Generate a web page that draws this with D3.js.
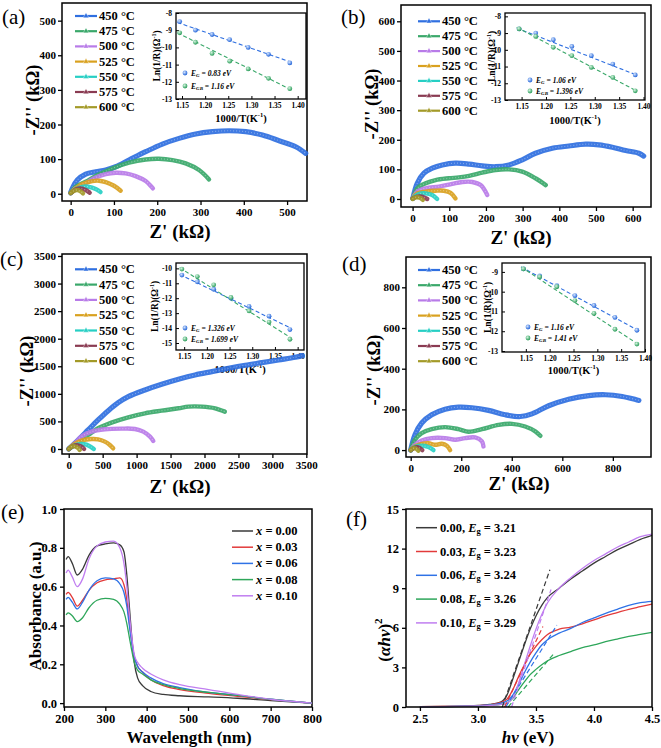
<!DOCTYPE html>
<html><head><meta charset="utf-8">
<script src="https://cdn.jsdelivr.net/npm/d3@7"></script>
<style>body{margin:0;background:#fff}svg{display:block}</style>
</head><body><svg id="c" width="661" height="748"></svg>
<script>
const FONT="'Liberation Serif','Times New Roman',serif";
// ---------- DATA ----------
const tempLabels=["450 °C","475 °C","500 °C","525 °C","550 °C","575 °C","600 °C"];
const tempColors=["#2f6fe0","#3aa86a","#b87be8","#d9a11f","#26cfc4","#8a3b52","#a39a28"];
// Nyquist: [Z', -Z''] in kΩ, series order 450..600 °C
const nyqA=[
 [[0,3],[3.9,15.4],[15.4,39.5],[34.7,56.8],[57.8,63.6],[80.9,68.4],[104,78],[134.8,97.3],[173.3,121.4],[211.9,143.5],[250.4,159.9],[288.9,172.4],[327.4,179.2],[366,182],[404.5,179.2],[443,169.6],[481.5,153.2],[520,135.8],[543,116.6]],
 [[0,2],[11.5,20],[34.7,34.7],[57.8,51],[96,73],[134.8,89.6],[173.3,99],[204,101],[235,97.3],[265.8,87.7],[296.6,68.4],[319.7,41.4]],
 [[0,2],[11.5,15.4],[34.7,30],[57.8,47],[80.9,56.8],[104,60.7],[127,58.8],[150,51],[173.3,36.6],[190,15.4]],
 [[0,2],[11.5,15],[27,28],[50,36.6],[65.5,37.6],[80.9,33.7],[100,23],[115.6,8.7]],
 [[0,2],[11.5,12.5],[27,20],[42.4,20],[57.8,13.5],[69,4.8]],
 [[0,2],[11.5,12.5],[23,15.4],[34.7,10.6],[44,3]],
 [[0,2],[7.7,8.7],[15.4,10.6],[23,6.7],[28.5,1]]
];
const nyqB=[
 [[0.9,2],[12.7,53],[31,87],[53.6,104],[81,115],[117,121],[154,118],[190,112],[226,109],[263,115],[299,132],[335,154.5],[381,171.5],[426,179],[472,185],[508,183],[544.5,175],[581,163.6],[617,154.5],[630,145]],
 [[1,2],[12.7,36],[35.5,53],[62.7,64],[99,70],[126,73],[154,78],[190,89],[226,98],[263,100],[299,92.5],[335,70],[363,47]],
 [[0,2],[12.7,25],[35.5,36],[72,42],[108,51],[135.5,57.5],[163,57.5],[185.5,47],[203.6,13.5]],
 [[0,2],[12.7,19],[35.5,25],[62.7,28],[85,28],[103.6,21],[117,2]],
 [[0,2],[17,17],[35.5,19],[53.6,13.5],[67,0]],
 [[0,2],[12.7,8],[26,8],[40,0]],
 [[0,0],[8,5.6],[19,4.5],[28,-3]]
];
const nyqC=[
 [[0,0],[138,163],[286,345],[433,526],[582,695],[729,840],[877,949],[1123,1070],[1369,1173],[1616,1264],[1861,1342],[2108,1403],[2354,1463],[2600,1518],[2846,1566],[3092,1614],[3338,1663],[3437,1693]],
 [[0,0],[138,133],[286,254],[433,375],[630,478],[877,574],[1123,647],[1369,695],[1616,738],[1763,768],[1960,768],[2157,738],[2300,677]],
 [[0,0],[89,103],[187,224],[335,314],[532,357],[778,369],[975,363],[1098,314],[1197,224],[1246,145]],
 [[0,0],[89,91],[187,151],[335,181],[433,175],[532,133],[606,73],[655,12]],
 [[0,0],[89,66],[187,91],[261,79],[335,30],[370,0]],
 [[0,0],[64,54],[138,66],[187,42],[227,0]],
 [[0,0],[40,42],[89,48],[138,18],[162,-18]]
];
const nyqD=[
 [[0,0],[17,75],[43.6,133],[83,173.5],[136,201],[189,211],[242,208],[308,195],[374,173.5],[434,165],[480,178],[546,218],[625,250],[705,268],[771,272],[837,263.5],[903,244]],
 [[0,0],[17,51],[43.6,83.5],[83,103],[136,113],[189,103],[229,90],[282,103],[348,124],[401,129],[453,116],[493,92],[513,70]],
 [[0,0],[17,26],[43.6,47.5],[83,59],[136,59],[176,51],[215.5,59],[255,62],[282,42.5],[288,18]],
 [[0,0],[17,18],[43.6,31],[70,34],[96.5,26],[123,31],[143,21],[156,0]],
 [[0,0],[17,15],[43.6,21],[70,15],[90,0]],
 [[0,0],[14.5,11.5],[30,13],[46,0]],
 [[0,0],[8,8],[20,8],[30,-3]]
];
// Arrhenius insets: 1000/T (K^-1) for 600..450 °C
const invT=[1.145,1.179,1.215,1.253,1.293,1.337,1.383];
const lnG_A=[-8.5,-9.0,-9.25,-9.55,-10.0,-10.4,-10.9];
const lnGB_A=[-9.15,-9.7,-10.35,-10.8,-11.25,-11.8,-12.4];
const lnG_B=[-8.75,-9.0,-9.4,-9.8,-10.35,-10.85,-11.5];
const lnGB_B=[-8.75,-9.2,-9.85,-10.35,-11.05,-11.65,-12.45];
const lnG_C=[-10.45,-10.9,-11.4,-12.0,-12.55,-13.2,-14.1];
const lnGB_C=[-10.05,-10.55,-11.1,-11.95,-12.85,-13.6,-14.75];
const lnG_D=[-8.85,-9.2,-9.7,-10.2,-10.7,-11.3,-11.95];
const lnGB_D=[-8.85,-9.25,-9.75,-10.45,-11.1,-11.9,-12.65];
const fitG_A=[[1.14,-8.55],[1.385,-10.85]], fitGB_A=[[1.14,-9.15],[1.385,-12.45]];
const fitG_B=[[1.14,-8.7],[1.385,-11.5]], fitGB_B=[[1.14,-8.65],[1.385,-12.45]];
const fitG_C=[[1.14,-10.4],[1.385,-14.0]], fitGB_C=[[1.14,-9.95],[1.385,-14.65]];
const fitG_D=[[1.14,-8.75],[1.385,-11.95]], fitGB_D=[[1.14,-8.75],[1.385,-12.65]];
const energies=[["0.83","1.16"],["1.06","1.396"],["1.326","1.699"],["1.16","1.41"]];
const inTicksX=[1.15,1.20,1.25,1.30,1.35,1.40];
// UV-vis absorbance
const uvLabels=["0.00","0.03","0.06","0.08","0.10"];
const uvColors=["#3a3a3a","#e23a3a","#2f72e6","#2ea65a","#c07ef0"];
const wl=[205,210,220,232,245,260,280,300,320,335,345,352,358,364,370,378,390,410,440,480,550,620,700,800];
const abs000=[.74,.755,.72,.66,.69,.76,.81,.82,.825,.815,.78,.66,.50,.34,.21,.13,.09,.06,.045,.038,.032,.025,.013,0];
const abs003=[.56,.57,.545,.50,.53,.58,.62,.635,.64,.645,.61,.53,.42,.32,.24,.19,.16,.12,.09,.07,.05,.035,.018,0];
const abs006=[.535,.545,.52,.485,.52,.58,.63,.645,.64,.615,.57,.50,.40,.31,.24,.19,.16,.13,.10,.08,.055,.04,.02,0];
const abs008=[.455,.465,.45,.42,.44,.49,.53,.54,.535,.51,.47,.41,.34,.27,.21,.17,.15,.12,.095,.075,.055,.04,.02,0];
const abs010=[.67,.685,.65,.60,.64,.74,.81,.83,.835,.80,.72,.60,.46,.34,.25,.21,.18,.15,.12,.095,.07,.045,.02,0];
// Tauc plot
const hv=[2.5,2.7,2.9,3.0,3.1,3.2,3.25,3.3,3.35,3.4,3.45,3.5,3.55,3.6,3.7,3.8,3.9,4.0,4.1,4.2,4.3,4.4,4.5];
const tauc000=[.02,.04,.08,.12,.2,.4,.9,2.1,3.4,4.7,5.9,6.9,7.7,8.3,9.0,9.7,10.3,10.9,11.4,11.9,12.3,12.7,13.0];
const tauc003=[.02,.04,.07,.1,.18,.35,.6,1.3,2.3,3.2,4.0,4.6,5.1,5.5,5.9,6.05,6.3,6.6,6.9,7.15,7.4,7.6,7.8];
const tauc006=[.02,.03,.06,.09,.15,.3,.45,.9,1.7,2.6,3.4,4.1,4.7,5.1,5.6,5.95,6.4,6.75,7.1,7.4,7.7,7.9,8.0];
const tauc008=[.01,.02,.05,.07,.12,.2,.3,.65,1.3,1.9,2.45,2.85,3.2,3.5,3.9,4.2,4.5,4.7,4.95,5.15,5.35,5.5,5.65];
const tauc010=[.01,.03,.06,.08,.12,.2,.3,.7,1.8,3.2,4.6,5.9,7.0,7.9,9.0,9.8,10.5,11.1,11.6,12.1,12.5,12.9,13.1];
const egVals=["3.21","3.23","3.24","3.26","3.29"];
const tangents=[[[3.21,0],[3.62,10.4]],[[3.23,0],[3.56,6.1]],[[3.24,0],[3.68,6.2]],[[3.26,0],[3.66,4.1]],[[3.29,0],[3.63,8.9]]];

// ---------- DRAW ----------
const svg=d3.select("#c");
const defs=svg.append("defs");
function grad(id,c0,c1){const g=defs.append("radialGradient").attr("id",id).attr("cx","38%").attr("cy","35%").attr("r","65%");
 g.append("stop").attr("offset","0").attr("stop-color",c0);g.append("stop").attr("offset","1").attr("stop-color",c1);}
grad("gBlue","#d6e6ff","#1f62d8");grad("gGreen","#d4f5e0","#259a55");

function T(sel){return sel.attr("font-family",FONT).attr("fill","#000");}
function axes(o){
 const gx=svg.append("g").attr("transform",`translate(0,${o.f.b})`)
  .call(d3.axisBottom(o.x).tickValues(o.xt).tickFormat(o.xf).tickSize(o.ts).tickSizeOuter(0).tickPadding(o.tp));
 const gy=svg.append("g").attr("transform",`translate(${o.f.l},0)`)
  .call(d3.axisLeft(o.y).tickValues(o.yt).tickFormat(o.yf).tickSize(o.ts).tickSizeOuter(0).tickPadding(o.tpy!=null?o.tpy:o.tp));
 [gx,gy].forEach(g=>{g.select(".domain").remove();
  g.selectAll("line").attr("stroke","#000").attr("stroke-width",o.sw);
  T(g.selectAll("text")).attr("font-weight","bold").attr("font-size",o.fs);});
 svg.append("rect").attr("x",o.f.l).attr("y",o.f.t).attr("width",o.f.r-o.f.l).attr("height",o.f.b-o.f.t)
  .attr("fill","none").attr("stroke","#000").attr("stroke-width",o.fw);
}
function title(txt,x,y,fs,rot){const t=T(svg.append("text")).attr("font-weight","bold").attr("font-size",fs)
 .attr("text-anchor","middle").attr("dominant-baseline","central")
 .attr("transform",`translate(${x},${y})`+(rot?" rotate(-90)":""));t.html(txt);return t;}
function letter(txt,x,y){T(svg.append("text")).attr("x",x).attr("y",y).attr("font-size",21).text(txt);}
const str=v=>String(v);

function nyquist(P){
 const f=P.f;
 const x=d3.scaleLinear().domain(P.xd).range([f.l,f.r]);
 const y=d3.scaleLinear().domain(P.yd).range([f.b,f.t]);
 // inset
 const I=P.inset;
 const ix=d3.scaleLinear().domain(I.xd).range([I.l,I.r]);
 const iy=d3.scaleLinear().domain(I.yd).range([I.b,I.t]);
 axes({x:ix,y:iy,f:I,xt:inTicksX,yt:I.yt,xf:d3.format(".2f"),yf:str,ts:-3,tp:4,sw:1,fs:7.5,fw:1.3});
 [[P.fitG,"#2f6fe0"],[P.fitGB,"#3aa86a"]].forEach(([d,c])=>{
  svg.append("path").attr("d",d3.line().x(p=>ix(p[0])).y(p=>iy(p[1]))(d)).attr("stroke",c).attr("stroke-width",1.1)
   .attr("stroke-dasharray","4,2.5").attr("fill","none");});
 [[P.lnG,"url(#gBlue)"],[P.lnGB,"url(#gGreen)"]].forEach(([d,c])=>{
  svg.append("g").selectAll("circle").data(d).join("circle").attr("cx",(v,i)=>ix(invT[i])).attr("cy",v=>iy(v))
   .attr("r",2.4).attr("fill",c);});
 const eg=P.en;
 [["G",eg[0],"url(#gBlue)"],["GB",eg[1],"url(#gGreen)"]].forEach((e,k)=>{
  const yy=I.legY[k];
  svg.append("circle").attr("cx",I.legX).attr("cy",yy).attr("r",2.4).attr("fill",e[2]);
  T(svg.append("text")).attr("x",I.legX+6).attr("y",yy).attr("dominant-baseline","central").attr("font-size",7.5)
   .attr("font-style","italic").attr("font-weight","bold")
   .html(`E<tspan font-size="5" dy="2">${e[0]}</tspan><tspan dy="-2"> = ${e[1]} eV</tspan>`);
 });
 title("Ln(1/R)(Ω<tspan font-size='6' dy='-3'>-1</tspan><tspan dy='3'>)</tspan>",I.ylx,(I.t+I.b)/2,9.5,true);
 title("1000/T(K<tspan font-size='6.5' dy='-4'>-1</tspan><tspan dy='4'>)</tspan>",(I.l+I.r)/2,I.xly,10.5,false);
 // main axes
 axes({x,y,f,xt:P.xt,yt:P.yt,xf:str,yf:str,ts:4,tp:3,tpy:2,sw:1.3,fs:11,fw:1.5});
 // curves
 const line=d3.line().x(p=>x(p[0])).y(p=>y(p[1])).curve(d3.curveCatmullRom.alpha(0.5));
 P.data.forEach((d,i)=>{
  svg.append("path").attr("d",line(d)).attr("fill","none").attr("stroke",tempColors[i])
   .attr("stroke-width",i==0?5.2:4.4).attr("stroke-linecap","round").attr("stroke-linejoin","round").attr("opacity",0.92);
  svg.append("path").attr("d",line(d)).attr("fill","none").attr("stroke","#fff")
   .attr("stroke-width",1.2).attr("stroke-dasharray","1,2").attr("opacity",0.35);
 });
 // legend
 tempLabels.forEach((t,i)=>{
  const yy=P.leg.y0+i*P.leg.dy;
  svg.append("line").attr("x1",P.leg.x).attr("x2",P.leg.x+22).attr("y1",yy).attr("y2",yy)
   .attr("stroke",tempColors[i]).attr("stroke-width",2.2);
  svg.append("path").attr("d",d3.symbol(d3.symbolTriangle,14)()).attr("transform",`translate(${P.leg.x+11},${yy})`)
   .attr("fill",tempColors[i]).attr("stroke","#fff").attr("stroke-width",0.4);
  T(svg.append("text")).attr("x",P.leg.x+24).attr("y",yy).attr("dominant-baseline","central")
   .attr("font-size",12.5).attr("font-weight","bold").text(t);
 });
 title("-Z'' (kΩ)",P.yt0[0],P.yt0[1],18.5,true);
 title("Z' (kΩ)",P.xt0[0],P.xt0[1],19,false);
 letter(P.letter,P.lp[0],P.lp[1]);
}
const d100=(a,b,s)=>d3.range(a,b+1e-9,s);
nyquist({f:{l:62,r:307,t:3,b:201},xd:[-20,546],yd:[-21,551],xt:d100(0,500,100),yt:d100(0,500,100),data:nyqA,
 inset:{l:176,r:306,t:13,b:99,xd:[1.137,1.418],yd:[-13,-8],yt:[-8,-9,-10,-11,-12,-13],legX:185,legY:[73,86],ylx:157,xly:118},
 lnG:lnG_A,lnGB:lnGB_A,fitG:fitG_A,fitGB:fitGB_A,en:energies[0],leg:{x:75,y0:16,dy:15.2},yt0:[33,100],xt0:[180,231],letter:"(a)",lp:[2,24]});
nyquist({f:{l:401,r:651,t:5,b:207},xd:[-31.6,650],yd:[-27,655],xt:d100(0,600,100),yt:d100(0,600,100),data:nyqB,
 inset:{l:505,r:645,t:13,b:100,xd:[1.116,1.403],yd:[-13.0,-7.8],yt:[-8,-9,-10,-11,-12,-13],legX:530,legY:[80,91],ylx:492,xly:120},
 lnG:lnG_B,lnGB:lnGB_B,fitG:fitG_B,fitGB:fitGB_B,en:energies[1],leg:{x:418,y0:21.3,dy:14.9},yt0:[372,104],xt0:[521,237],letter:"(b)",lp:[341,24]});
nyquist({f:{l:62,r:307,t:254,b:454},xd:[-99,3510],yd:[-91,3536],xt:d100(0,3500,500),yt:d100(0,3500,500),data:nyqC,
 inset:{l:176,r:304,t:263,b:350,xd:[1.132,1.414],yd:[-15.47,-9.64],yt:[-10,-11,-12,-13,-14,-15],legX:185,legY:[328,339],ylx:155,xly:369},
 lnG:lnG_C,lnGB:lnGB_C,fitG:fitG_C,fitGB:fitGB_C,en:energies[2],leg:{x:75,y0:269.3,dy:15.3},yt0:[27,371],xt0:[180,486],letter:"(c)",lp:[0,266]});
nyquist({f:{l:406,r:651,t:257,b:457},xd:[-18.6,951],yd:[-34,949],xt:d100(0,800,200),yt:d100(0,800,200),data:nyqD,
 inset:{l:502,r:645,t:263,b:352,xd:[1.10,1.40],yd:[-13.05,-8.55],yt:[-9,-10,-11,-12,-13],legX:528,legY:[327,338],ylx:488,xly:370},
 lnG:lnG_D,lnGB:lnGB_D,fitG:fitG_D,fitGB:fitGB_D,en:energies[3],leg:{x:418,y0:270,dy:15.2},yt0:[374,370],xt0:[519,483],letter:"(d)",lp:[342,271]});

// (e) UV-vis
(function(){
 const f={l:64,r:312,t:509,b:707};
 const x=d3.scaleLinear().domain([200,800]).range([f.l,f.r]);
 const y=d3.scaleLinear().domain([-0.02,1.0]).range([f.b,f.t]);
 axes({x,y,f,xt:d100(200,800,100),yt:[0,.2,.4,.6,.8,1.0],xf:str,yf:d3.format(".1f"),ts:4,tp:3,sw:1.3,fs:12.5,fw:1.5});
 const line=d3.line().x((v,i)=>x(wl[i])).y(v=>y(v)).curve(d3.curveMonotoneX);
 [abs000,abs003,abs006,abs008,abs010].forEach((d,i)=>{
  svg.append("path").attr("d",line(d)).attr("fill","none").attr("stroke",uvColors[i]).attr("stroke-width",1.3);});
 uvLabels.forEach((t,i)=>{const yy=531+i*16.2;
  svg.append("line").attr("x1",232).attr("x2",253).attr("y1",yy).attr("y2",yy).attr("stroke",uvColors[i]).attr("stroke-width",1.5);
  T(svg.append("text")).attr("x",256).attr("y",yy).attr("dominant-baseline","central").attr("font-size",12.5).attr("font-weight","bold")
   .html(`<tspan font-style="italic">x</tspan> = ${t}`);});
 title("Absorbance (a.u.)",35,606,17,true);
 title("Wavelength (nm)",189,737,17,false);
 letter("(e)",1,519);
})();
// (f) Tauc
(function(){
 const f={l:406,r:652,t:509,b:707};
 const x=d3.scaleLinear().domain([2.38,4.5]).range([f.l,f.r]);
 const y=d3.scaleLinear().domain([0,15]).range([f.b,f.t]);
 const line=d3.line().x((v,i)=>x(hv[i])).y(v=>y(v)).curve(d3.curveMonotoneX);
 [tauc000,tauc003,tauc006,tauc008,tauc010].forEach((d,i)=>{
  svg.append("path").attr("d",line(d)).attr("fill","none").attr("stroke",uvColors[i]).attr("stroke-width",1.3);});
 tangents.forEach((d,i)=>{svg.append("path").attr("d",d3.line().x(p=>x(p[0])).y(p=>y(p[1]))(d))
  .attr("stroke",uvColors[i]).attr("stroke-width",1.2).attr("stroke-dasharray","5,3").attr("fill","none");});
 axes({x,y,f,xt:[2.5,3.0,3.5,4.0,4.5],yt:[0,3,6,9,12,15],xf:d3.format(".1f"),yf:str,ts:4,tp:3,sw:1.3,fs:12.5,fw:1.5});
 uvLabels.forEach((t,i)=>{const yy=527.7+i*23.8;
  svg.append("line").attr("x1",416).attr("x2",437).attr("y1",yy).attr("y2",yy).attr("stroke",uvColors[i]).attr("stroke-width",1.5);
  T(svg.append("text")).attr("x",440).attr("y",yy).attr("dominant-baseline","central").attr("font-size",12.5).attr("font-weight","bold")
   .html(`${t}, <tspan font-style="italic">E</tspan><tspan font-size="8.5" dy="3">g</tspan><tspan dy="-3"> = ${egVals[i]}</tspan>`);});
 title("(<tspan font-style='italic'>αhν</tspan>)<tspan font-size='11' dy='-6'>2</tspan>",384,640,17,true);
 title("<tspan font-style='italic'>hν</tspan> (eV)",528,737,17,false);
 letter("(f)",346,526);
})();
</script></body></html>
